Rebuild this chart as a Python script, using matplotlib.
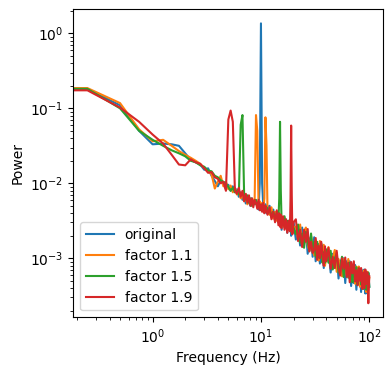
import numpy as np
import matplotlib
matplotlib.use("Agg")
import matplotlib.pyplot as plt

# frequency grid (Hz), shared by all four spectra
freqs = [0, 0.25, 0.5, 0.75, 1.0, 1.25, 1.5, 1.75, 2.0, 2.25, 2.5, 2.75,
         3.0, 3.25, 3.5, 3.75, 4.0, 4.25, 4.5, 4.75, 5.0, 5.25, 5.5, 5.75,
         6.0, 6.25, 6.5, 6.75, 7.0, 7.25, 7.5, 7.75, 8.0, 8.25, 8.5, 8.75,
         9.0, 9.25, 9.5, 9.75, 10.0, 10.25, 10.5, 10.75, 11.0, 11.25, 11.5,
         12.0, 12.5, 13.0, 13.5, 14.0, 14.5, 14.75, 15.0, 15.25,
         15.5, 16.0, 16.5, 17.0, 17.5, 18.0, 18.5, 18.75, 19.0, 19.25, 19.5, 20.0,
         21, 22, 23, 24, 25, 26, 27, 28, 29, 30,
         31, 32, 33, 34, 35, 36, 37, 38, 39, 40,
         42, 44, 46, 48, 50, 52, 54, 56, 58, 60,
         62, 64, 66, 68, 70, 72, 74, 76, 78, 80,
         82, 84, 86, 88, 90, 92, 94, 96, 98, 100]

# power, stored as log10(power)
original_log10 = [
    -0.74, -0.74, -0.96, -1.30, -1.48, -1.47, -1.48, -1.50, -1.60, -1.69, -1.72, -1.75,
    -1.82, -1.80, -1.90, -1.97, -2.04, -1.96, -2.00, -2.08, -2.02, -2.10, -2.04, -2.12,
    -2.08, -2.18, -2.12, -2.22, -2.16, -2.27, -2.18, -2.25, -2.30, -2.20, -2.28, -2.22,
    -2.24, -2.30, -2.35, -2.00, 0.133, -2.00, -2.30, -2.38, -2.28, -2.40, -2.32,
    -2.30, -2.45, -2.35, -2.50, -2.38, -2.52, -2.42, -2.55, -2.44,
    -2.62, -2.45, -2.58, -2.48, -2.66, -2.50, -2.60, -2.52, -2.70, -2.55, -2.62, -2.52,
    -2.75, -2.58, -2.83, -2.59, -2.80, -2.62, -2.94, -2.75, -2.71, -2.98,
    -2.72, -3.04, -2.82, -2.81, -3.07, -2.90, -2.83, -3.13, -2.89, -3.04,
    -2.88, -3.19, -2.94, -3.13, -2.93, -3.27, -3.03, -3.18, -3.00, -3.33,
    -3.04, -3.20, -3.04, -3.37, -3.12, -3.33, -3.09, -3.42, -3.14, -3.35,
    -3.17, -3.45, -3.16, -3.39, -3.15, -3.47, -3.24, -3.47, -3.20, -3.38]

factor_11_log10 = [
    -0.73, -0.73, -0.93, -1.28, -1.44, -1.42, -1.50, -1.57, -1.62, -1.66, -1.70, -1.74,
    -1.80, -1.84, -1.88, -2.07, -1.98, -1.90, -2.04, -1.98, -2.08, -2.03, -2.12, -2.06,
    -2.15, -2.10, -2.20, -2.14, -2.24, -2.18, -2.28, -2.20, -2.22, -2.30, -2.24, -2.20,
    -1.09, -1.30, -2.28, -2.24, -2.33, -2.26, -2.36, -2.20, -1.12, -1.50, -2.38,
    -2.42, -2.32, -2.47, -2.38, -2.50, -2.40, -2.48, -2.56, -2.45,
    -2.52, -2.58, -2.46, -2.60, -2.50, -2.62, -2.54, -2.48, -2.64, -2.56, -2.66, -2.58,
    -2.58, -2.75, -2.55, -2.83, -2.64, -2.59, -2.82, -2.90, -2.70, -2.85,
    -2.96, -2.76, -2.93, -3.03, -2.77, -2.90, -3.03, -2.82, -3.10, -2.99,
    -2.85, -3.08, -3.00, -2.89, -3.18, -3.01, -3.13, -3.24, -3.01, -3.10,
    -3.23, -3.01, -3.14, -3.29, -3.10, -3.23, -3.34, -3.11, -3.30, -3.11,
    -3.38, -3.15, -3.28, -3.39, -3.16, -3.35, -3.45, -3.18, -3.34, -3.26]

factor_15_log10 = [
    -0.74, -0.74, -1.00, -1.30, -1.42, -1.50, -1.56, -1.60, -1.64, -1.70, -1.72, -1.76,
    -1.78, -1.83, -1.84, -1.90, -1.92, -1.96, -1.98, -2.00, -2.05, -2.10, -2.06, -2.12,
    -2.10, -2.15, -1.22, -1.09, -2.18, -2.22, -2.16, -2.26, -2.20, -2.30, -2.24, -2.28,
    -2.22, -2.32, -2.25, -2.30, -2.36, -2.28, -2.34, -2.30, -2.38, -2.32, -2.36,
    -2.34, -2.44, -2.38, -2.46, -2.40, -2.50, -2.20, -1.18, -2.10,
    -2.50, -2.56, -2.44, -2.58, -2.50, -2.54, -2.62, -2.52, -2.58, -2.66, -2.54, -2.60,
    -2.68, -2.55, -2.79, -2.67, -2.86, -2.65, -2.78, -2.90, -2.67, -2.91,
    -2.78, -2.98, -2.78, -2.99, -2.87, -2.80, -3.06, -2.92, -3.06, -2.88,
    -3.06, -2.90, -3.15, -3.00, -2.94, -3.19, -3.10, -2.98, -3.25, -3.08,
    -3.07, -3.26, -3.06, -3.21, -3.32, -3.07, -3.28, -3.12, -3.35, -3.21,
    -3.14, -3.35, -3.22, -3.41, -3.22, -3.18, -3.42, -3.33, -3.19, -3.38]

factor_19_log10 = [
    -0.76, -0.76, -0.99, -1.18, -1.35, -1.47, -1.62, -1.75, -1.76, -1.68, -1.72, -1.74,
    -1.80, -1.86, -1.85, -1.92, -1.94, -2.00, -1.98, -2.10, -1.15, -1.03, -1.18, -2.10,
    -2.14, -2.06, -2.18, -2.10, -2.24, -2.14, -2.26, -2.16, -2.30, -2.20, -2.32, -2.22,
    -2.26, -2.34, -2.22, -2.36, -2.28, -2.38, -2.26, -2.40, -2.30, -2.36, -2.42,
    -2.32, -2.48, -2.38, -2.52, -2.36, -2.56, -2.40, -2.58, -2.42,
    -2.60, -2.44, -2.62, -2.48, -2.66, -2.50, -2.64, -2.20, -1.23, -2.15, -2.68, -2.52,
    -2.48, -2.77, -2.62, -2.85, -2.62, -2.78, -2.61, -2.91, -2.78, -2.93,
    -2.89, -2.73, -3.02, -2.83, -3.00, -2.78, -2.95, -3.10, -2.84, -3.04,
    -2.86, -3.14, -2.98, -3.13, -2.90, -3.13, -3.23, -3.00, -3.14, -2.99,
    -3.25, -3.06, -3.32, -3.05, -3.20, -3.04, -3.31, -3.16, -3.36, -3.13,
    -3.30, -3.13, -3.41, -3.19, -3.40, -3.15, -3.34, -3.19, -3.60, -3.24]

labels = ["original", "factor 1.1", "factor 1.5", "factor 1.9"]
series = [original_log10, factor_11_log10, factor_15_log10, factor_19_log10]

fig, ax = plt.subplots(figsize=(3.92, 3.75), dpi=100)
fig.subplots_adjust(left=0.187, right=0.978, bottom=0.154, top=0.975)

for lab, vals in zip(labels, series):
    ax.loglog(freqs, 10 ** np.array(vals), label=lab)

ax.set_xlabel("Frequency (Hz)")
ax.set_ylabel("Power")
ax.legend(loc="lower left")

fig.savefig("out.png", dpi=100)
